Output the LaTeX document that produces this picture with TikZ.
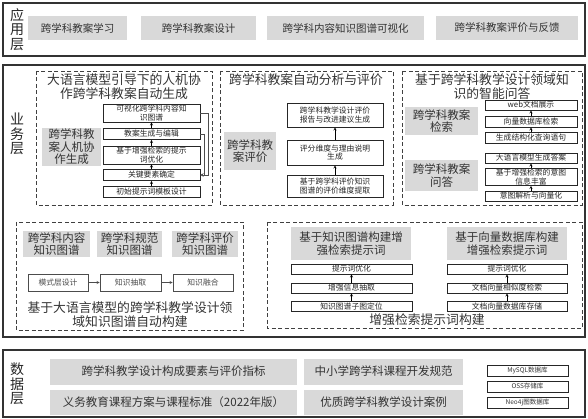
\documentclass[tikz,border=0pt]{standalone}
\usepackage{fontspec}
\setmainfont{Noto Sans CJK SC}
\usetikzlibrary{arrows}

\begin{document}
\begin{tikzpicture}[x=1pt, y=-1pt, >=stealth,
    layer/.style={draw=black!80, line width=1.3pt},
    group/.style={draw=black!75, line width=0.7pt, dash pattern=on 4pt off 2.5pt},
    wh/.style 2 args={minimum width=#1, minimum height=#2},
    tag/.style={inner sep=0pt, align=center, text=black!85, font=\fontsize{14}{14.5}\selectfont},
    title/.style={inner sep=0pt, align=center, text=black!80, font=\fontsize{12.8}{14}\selectfont},
    grey/.style={fill=black!15, inner sep=0pt, align=center, text=black!80, font=\fontsize{11.5}{12.5}\selectfont},
    stepbox/.style={draw=black!85, fill=white, line width=0.7pt, inner sep=0pt, align=center, text=black!85, font=\fontsize{7.8}{8.4}\selectfont},
    dbbox/.style={draw=black!85, line width=0.5pt, inner sep=0pt, text=black!80, font=\fontsize{6.5}{7}\selectfont}]
    \useasboundingbox (0,0) rectangle (588,419);

    % Application layer
    \draw[layer] (3,3) rectangle (585,56);
    \node[tag] (app) at (17,29.5) {应\\用\\层};
    \node[grey, wh={99}{24}, font=\fontsize{10.5}{12}\selectfont] (a1) at (77.5,28) {跨学科教案学习};
    \node[grey, wh={115}{24}, font=\fontsize{10.5}{12}\selectfont] (a2) at (198.5,28) {跨学科教案设计};
    \node[grey, wh={157}{24}, font=\fontsize{10.5}{12}\selectfont] (a3) at (345.5,28) {跨学科内容知识图谱可视化};
    \node[grey, wh={142}{24}, font=\fontsize{10.5}{12}\selectfont] (a4) at (507,28) {跨学科教案评价与反馈};

    % Business layer
    \draw[layer] (3,65) rectangle (585,337);
    \node[tag] (biz) at (17,134) {业\\务\\层};

    % human-machine generation
    \draw[group] (36,71) rectangle (212,205);
    \node[title] (t1) at (124,86.5) {大语言模型引导下的人机协\\作跨学科教案自动生成};
    \node[grey, wh={59}{38}] (g1) at (71.5,147) {跨学科教\\案人机协\\作生成};
    \node[stepbox, wh={97}{18}] (s1) at (151.5,113) {可视化跨学科内容知\\识图谱};
    \node[stepbox, wh={97}{11}] (s2) at (151.5,134) {教案生成与编辑};
    \node[stepbox, wh={97}{18}] (s3) at (151.5,155) {基于增强检索的提示\\词优化};
    \node[stepbox, wh={97}{11}] (s4) at (151.5,175) {关键要素确定};
    \node[stepbox, wh={97}{11}] (s5) at (151.5,192) {初始提示词模板设计};
    \draw[->] (s5) -- (s4);
    \draw[->] (s4) -- (s3);
    \draw[->] (s3) -- (s2);
    \draw[->] (s2) -- (s1);
    \draw[->, black!70] (s1.east) -- ++(8,0) |- (s4.east);
    \draw[->, black!70] (s2.east) -- ++(4,0) |- (s4.east);

    % evaluation
    \draw[group] (220,71) rectangle (393,205);
    \node[title] (t2) at (306,79.5) {跨学科教案自动分析与评价};
    \node[grey, wh={52}{38}] (g2) at (250,151) {跨学科教\\案评价};
    \node[stepbox, wh={96}{24}] (m1) at (335,115) {跨学科教学设计评价\\报告与改进建议生成};
    \node[stepbox, wh={96}{25}] (m2) at (335,152.5) {评分维度与理由说明\\生成};
    \node[stepbox, wh={96}{22}] (m3) at (335,186) {基于跨学科评价知识\\图谱的评价维度提取};
    \draw[->] (m3) -- (m2);
    \draw[->] (m2) -- (m1);

    % question answering
    \draw[group] (402,71) rectangle (582,205);
    \node[title] (t3) at (492,86.5) {基于跨学科教学设计领域知\\识的智能问答};
    \node[grey, wh={73}{28}] (g3) at (441.5,121) {跨学科教案\\检索};
    \node[grey, wh={73}{31}] (g4) at (441.5,175.5) {跨学科教案\\问答};
    \node[stepbox, wh={92}{10}] (r1) at (531,105) {web文档展示};
    \node[stepbox, wh={92}{11}] (r2) at (531,121.5) {向量数据库检索};
    \node[stepbox, wh={92}{11}] (r3) at (531,137.5) {生成结构化查询语句};
    \node[stepbox, wh={92}{10}] (r4) at (531,158) {大语言模型生成答案};
    \node[stepbox, wh={92}{17}] (r5) at (531,177) {基于增强检索的意图\\信息丰富};
    \node[stepbox, wh={92}{10}] (r6) at (531,196) {意图解析与向量化};
    \draw[->] (r3) -- (r2);
    \draw[->] (r2) -- (r1);
    \draw[->] (r6) -- (r5);
    \draw[->] (r5) -- (r4);

    % knowledge graph construction
    \draw[group] (16,222) rectangle (243,330);
    \node[grey, wh={67}{26}] (k1) at (56.5,244) {跨学科内容\\知识图谱};
    \node[grey, wh={65}{26}] (k2) at (129.5,244) {跨学科规范\\知识图谱};
    \node[grey, wh={66}{26}] (k3) at (205,244) {跨学科评价\\知识图谱};
    \node[stepbox, wh={60}{17}, draw=black!70, text=black!70] (p1) at (58,282.5) {模式层设计};
    \node[stepbox, wh={61}{17}, draw=black!70, text=black!70] (p2) at (130.5,282.5) {知识抽取};
    \node[stepbox, wh={60}{17}, draw=black!70, text=black!70] (p3) at (203,282.5) {知识融合};
    \draw[->, black!70] (p1) -- (p2);
    \draw[->, black!70] (p2) -- (p3);
    \node[title] (t4) at (130,314.5) {基于大语言模型的跨学科教学设计领\\域知识图谱自动构建};

    % retrieval prompt construction
    \draw[group] (267,222) rectangle (582,328);
    \node[grey, wh={120}{33}] (e1) at (351,243.5) {基于知识图谱构建增\\强检索提示词};
    \node[grey, wh={120}{33}] (e2) at (507,243.5) {基于向量数据库构建\\增强检索提示词};
    \node[stepbox, wh={121}{10}] (b1) at (351.5,269) {提示词优化};
    \node[stepbox, wh={121}{10}] (b2) at (351.5,288) {增强信息抽取};
    \node[stepbox, wh={121}{10}] (b3) at (351.5,306.5) {知识图谱子图定位};
    \node[stepbox, wh={120}{10}] (v1) at (507,269) {提示词优化};
    \node[stepbox, wh={120}{10}] (v2) at (507,288) {文档向量相似度检索};
    \node[stepbox, wh={120}{10}] (v3) at (507,306.5) {文档向量数据库存储};
    \draw[->] (b3) -- (b2);
    \draw[->] (b2) -- (b1);
    \draw[->] (v3) -- (v2);
    \draw[->] (v2) -- (v1);
    \node[title] (t5) at (427,320) {增强检索提示词构建};

    % Data layer
    \draw[layer] (3,350) rectangle (585,417);
    \node[tag] (dat) at (17,384) {数\\据\\层};
    \node[grey, wh={247}{26}] (d1) at (173.5,371.5) {跨学科教学设计构成要素与评价指标};
    \node[grey, wh={159}{26}] (d2) at (383.5,371.5) {中小学跨学科课程开发规范};
    \node[grey, wh={247}{25}] (d3) at (173.5,402) {义务教育课程方案与课程标准（2022年版）};
    \node[grey, wh={159}{25}] (d4) at (383.5,402) {优质跨学科教学设计案例};
    \node[dbbox, wh={81}{11}] (db1) at (527.5,370.5) {MySQL数据库};
    \node[dbbox, wh={81}{11}] (db2) at (527.5,386.5) {OSS存储库};
    \node[dbbox, wh={81}{11}] (db3) at (527.5,402.5) {Neo4j图数据库};
\end{tikzpicture}
\end{document}
